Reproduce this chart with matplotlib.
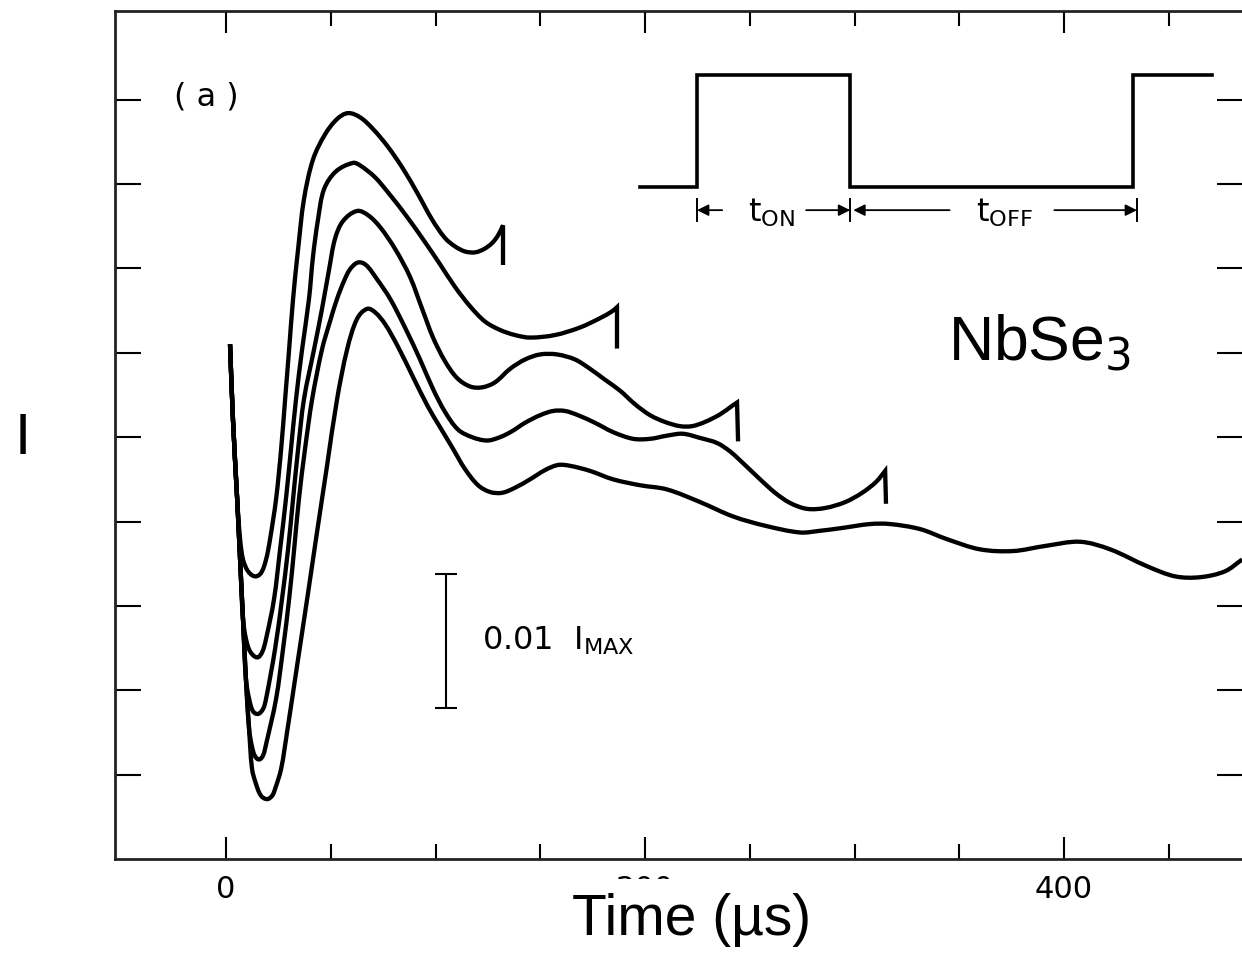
import numpy as np
import matplotlib
matplotlib.use("Agg")
import matplotlib.pyplot as plt
from matplotlib.ticker import FixedLocator
from matplotlib.path import Path
from matplotlib.patches import PathPatch

# --- transient current traces (time in us, current in arbitrary units) ---
# all five traces start on the same falling edge
t_start = [1.9, 3.3, 5.3, 6.7, 8.1, 9.5, 11.0]
i_start = [6.10, 5.21, 4.27, 3.55, 2.84, 2.13, 1.54]

t_1 = [1.9, 3.3, 5.3, 6.7, 8.1, 10.5, 13.8, 16.7, 19.1, 21.0, 23.9, 26.3, 28.2, 30.1,
       32.0, 34.4, 37.2, 41.5, 47.3, 53.0, 58.2, 64.0, 70.2, 77.3, 84.5, 91.6, 98.3,
       104.5, 109.3, 114.1, 118.9, 123.2, 127.0, 129.8, 132.2, 132.2]
i_1 = [6.10, 5.21, 4.27, 3.79, 3.55, 3.41, 3.35, 3.39, 3.55, 3.79, 4.27, 4.86, 5.45, 6.04,
       6.64, 7.23, 7.82, 8.29, 8.59, 8.77, 8.84, 8.79, 8.65, 8.44, 8.18, 7.88, 7.58,
       7.36, 7.26, 7.20, 7.19, 7.23, 7.30, 7.39, 7.51, 7.04]

t_2 = t_start[:5] + [9.5, 11.5, 14.8, 17.2, 19.1, 22.9, 25.8, 28.6, 31.0, 33.4, 36.3,
                     39.6, 41.5, 43.9, 46.8, 52.5, 60.6, 64.0, 71.1, 78.3, 86.4, 95.0,
                     102.1, 109.3, 116.5, 123.6, 130.8, 137.9, 145.1, 157.0, 169.0,
                     178.5, 184.2, 186.6, 186.6]
i_2 = i_start[:5] + [2.61, 2.46, 2.39, 2.45, 2.61, 3.08, 3.67, 4.27, 4.86, 5.45, 6.04,
                     6.64, 7.14, 7.58, 7.94, 8.15, 8.25, 8.22, 8.08, 7.87, 7.61, 7.31,
                     7.05, 6.78, 6.55, 6.37, 6.27, 6.21, 6.18, 6.21, 6.30,
                     6.41, 6.49, 6.54, 6.05]

t_3 = t_start[:6] + [11.0, 12.9, 15.3, 17.7, 19.1, 23.4, 26.7, 29.6, 32.0, 34.4, 37.2,
                     42.0, 45.8, 49.2, 52.0, 55.8, 62.5, 67.8, 73.5, 80.7, 87.8, 93.6,
                     98.8, 104.5, 110.3, 116.5, 122.2, 128.4, 135.6, 142.7, 149.9,
                     158.0, 166.6, 173.7, 180.9, 188.1, 195.2, 202.4, 209.5, 216.7,
                     222.4, 228.6, 235.8, 241.5, 243.9, 244.4]
i_3 = i_start[:6] + [1.90, 1.75, 1.72, 1.78, 1.90, 2.49, 3.08, 3.67, 4.27, 4.86, 5.45,
                     6.04, 6.52, 6.99, 7.35, 7.56, 7.68, 7.63, 7.49, 7.23, 6.90, 6.52,
                     6.18, 5.90, 5.70, 5.60, 5.59, 5.65, 5.81, 5.92, 5.98,
                     5.98, 5.92, 5.81, 5.68, 5.55, 5.39, 5.26, 5.18, 5.13,
                     5.13, 5.18, 5.27, 5.37, 5.41, 4.95]

t_4 = t_start + [12.4, 13.8, 15.8, 17.7, 19.1, 23.9, 27.2, 30.1, 32.5, 34.8, 37.7, 41.1,
                 45.8, 49.6, 53.0, 56.3, 59.2, 63.0, 66.8, 72.1, 78.3, 85.4, 92.6, 98.8,
                 104.5, 110.7, 117.4, 124.6, 130.8, 136.5, 142.7, 149.9, 156.1, 161.8,
                 168.0, 176.1, 184.7, 194.3, 202.4, 211.0, 218.1, 226.3, 234.4, 240.6,
                 247.7, 254.9, 262.1, 269.2, 277.3, 285.9, 295.5, 303.6, 310.3, 314.6,
                 315.0]
i_4 = i_start + [1.33, 1.22, 1.18, 1.23, 1.36, 1.90, 2.49, 3.08, 3.67, 4.27, 4.86, 5.45,
                 6.04, 6.37, 6.64, 6.85, 6.99, 7.07, 7.04, 6.87, 6.64, 6.30, 5.92, 5.57,
                 5.30, 5.09, 5.00, 4.96, 5.00, 5.07, 5.17, 5.26, 5.31, 5.31,
                 5.26, 5.17, 5.06, 4.98, 4.98, 5.02, 5.04, 4.99, 4.93, 4.83,
                 4.67, 4.50, 4.34, 4.22, 4.15, 4.16, 4.23, 4.34, 4.47, 4.60,
                 4.21]

t_5 = t_start + [12.4, 14.3, 16.7, 19.6, 22.0, 23.4, 26.3, 29.1, 33.9, 38.7, 43.4, 48.2,
                 53.0, 57.8, 62.5, 67.3, 71.1, 75.9, 82.1, 89.3, 96.4, 102.1, 107.9,
                 114.1, 120.3, 126.0, 131.7, 137.9, 145.1, 152.3, 158.5, 164.2, 173.7,
                 184.7, 197.6, 210.5, 226.3, 242.0, 257.3, 274.0, 283.5, 293.1, 307.4,
                 316.9, 331.3, 344.2, 359.9, 375.7, 390.9, 407.6, 422.0, 439.6, 453.0,
                 464.9, 476.8, 485.0]
i_5 = i_start + [1.07, 0.89, 0.75, 0.71, 0.75, 0.83, 1.07, 1.50, 2.29, 3.08, 3.87, 4.66,
                 5.45, 6.04, 6.40, 6.52, 6.48, 6.34, 6.07, 5.71, 5.36, 5.12, 4.88,
                 4.62, 4.43, 4.35, 4.34, 4.40, 4.50, 4.61, 4.67, 4.66, 4.60,
                 4.50, 4.43, 4.38, 4.23, 4.06, 3.95, 3.87, 3.89, 3.92, 3.97,
                 3.97, 3.91, 3.79, 3.67, 3.65, 3.71, 3.76, 3.67, 3.47, 3.35,
                 3.34, 3.41, 3.55]

# (time, current, ends with the switch-off drop?)
traces = [(t_1, i_1, True), (t_2, i_2, True), (t_3, i_3, True),
          (t_4, i_4, True), (t_5, i_5, False)]

# pulse sketch: edges in us, low / high levels
pulse_t = [197.6, 224.8, 224.8, 297.9, 297.9, 432.9, 432.9, 470.6]
pulse_i = [7.96, 7.96, 9.29, 9.29, 7.96, 7.96, 9.29, 9.29]
t_on_edges = [224.8, 297.9]
t_off_edges = [297.9, 434.8]
marker_level = 7.69

# 0.01 I_MAX scale bar
bar_t = 105.0
bar_i = [1.79, 3.38]

x_major = [0, 200, 400]
x_minor = [50, 100, 150, 250, 300, 350, 450]
y_ticks = [1, 2, 3, 4, 5, 6, 7, 8, 9]

fig = plt.figure(figsize=(12.42, 9.54), dpi=100)
ax = fig.add_axes([0.0926, 0.0985, 0.9082, 0.8889])
ax.set_xlim(-53.0, 485.4)
ax.set_ylim(0, 10.05)


def trace_path(t, cur, drop):
    """Smooth Bezier path through the trace points (straight final drop if any)."""
    pts = ax.transData.transform(np.column_stack([t, cur]))
    m = len(pts) - 1 if drop else len(pts)
    sm = pts[:m]

    def tangent(k):
        if k == 0:
            v = sm[1] - sm[0]
        elif k == m - 1:
            v = sm[-1] - sm[-2]
        else:
            v = sm[k + 1] - sm[k - 1]
        return v / np.hypot(*v)

    verts = [sm[0]]
    codes = [Path.MOVETO]
    for k in range(m - 1):
        p0, p1 = sm[k], sm[k + 1]
        d = np.hypot(*(p1 - p0)) / 3
        verts += [p0 + tangent(k) * d, p1 - tangent(k + 1) * d, p1]
        codes += [Path.CURVE4] * 3
    if drop:
        verts.append(pts[-1])
        codes.append(Path.LINETO)
    verts = ax.transData.inverted().transform(np.array(verts))
    return Path(verts, codes)


for t, cur, drop in traces:
    ax.add_patch(PathPatch(trace_path(t, cur, drop), facecolor="none",
                           edgecolor="black", lw=3.1, joinstyle="miter",
                           capstyle="butt"))

ax.plot(pulse_t, pulse_i, color="black", lw=2.6, solid_joinstyle="miter")

# t_ON / t_OFF markers
for xb in t_on_edges + t_off_edges[1:]:
    ax.plot([xb, xb], [marker_level - 0.13, marker_level + 0.13], color="black", lw=1.4)
arrow = dict(arrowstyle="-|>", color="black", lw=1.3, mutation_scale=17,
             shrinkA=0, shrinkB=0)
mid_on = sum(t_on_edges) / 2
mid_off = sum(t_off_edges) / 2 + 5
ax.annotate("", xy=(t_on_edges[0], marker_level), xytext=(t_on_edges[0] + 12, marker_level),
            arrowprops=arrow)
ax.annotate("", xy=(t_on_edges[1], marker_level), xytext=(t_on_edges[1] - 21, marker_level),
            arrowprops=arrow)
ax.annotate("", xy=(t_off_edges[0] + 1.5, marker_level), xytext=(mid_off - 26, marker_level),
            arrowprops=arrow)
ax.annotate("", xy=(t_off_edges[1], marker_level), xytext=(mid_off + 24, marker_level),
            arrowprops=arrow)
ax.text(mid_on - 1, marker_level - 0.02, r"t$_{\mathrm{ON}}$", fontsize=23,
        ha="center", va="center")
ax.text(mid_off, marker_level - 0.02, r"t$_{\mathrm{OFF}}$", fontsize=23,
        ha="center", va="center")

# scale bar
ax.errorbar([bar_t], [sum(bar_i) / 2], yerr=[(bar_i[1] - bar_i[0]) / 2], color="black",
            lw=1.5, capsize=8, capthick=1.5)
ax.text(bar_t + 17, 2.6, r"0.01  I$_{\mathrm{MAX}}$", fontsize=23, ha="left", va="center")

ax.text(-9.5, 9.04, "( a )", fontsize=23, ha="center", va="center")
ax.text(344.6, 5.92, r"NbSe$_3$", fontsize=45, family="Liberation Sans",
        ha="left", va="baseline")

ax.set_xticks(x_major)
ax.set_xticklabels(["0", "200", "400"])
ax.xaxis.set_minor_locator(FixedLocator(x_minor))
ax.set_yticks(y_ticks)
ax.set_yticklabels([])
ax.tick_params(which="major", direction="in", top=True, right=True, width=1.5,
               labelsize=22, pad=11)
ax.tick_params(axis="x", which="major", length=16)
ax.tick_params(axis="y", which="major", length=19)
ax.tick_params(which="minor", direction="in", top=True, length=11, width=1.5)
for s in ax.spines.values():
    s.set_linewidth(2.0)
    s.set_color("#222222")

fig.text(692 / 1242, 1 - 920 / 954, "Time (µs)", fontsize=41, family="Liberation Sans",
         ha="center", va="center",
         bbox=dict(facecolor="white", edgecolor="none", pad=9))
fig.text(23 / 1242, 1 - 439 / 954, "I", fontsize=42, family="Liberation Sans",
         ha="center", va="center")

fig.savefig("out.png", dpi=100)
